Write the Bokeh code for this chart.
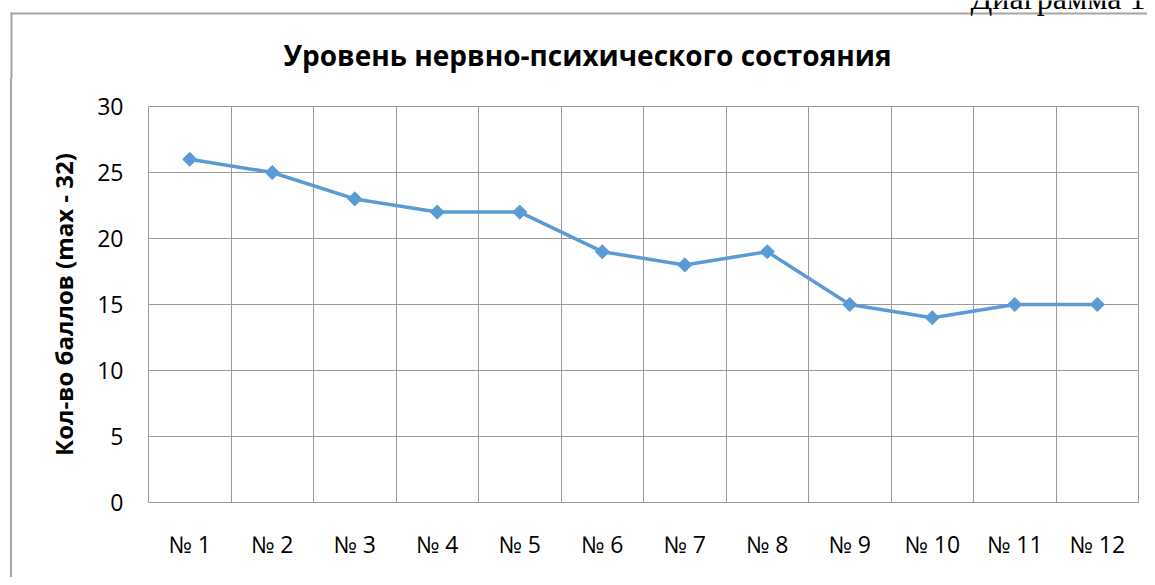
import math
from bokeh.plotting import figure
from bokeh.models import Label, FixedTicker, ColumnDataSource, Range1d, Column
from bokeh.core.properties import value
from bokeh.embed import file_html
from bokeh.resources import INLINE

categories = ["№ 1", "№ 2", "№ 3", "№ 4", "№ 5", "№ 6", "№ 7", "№ 8", "№ 9", "№ 10", "№ 11", "№ 12"]
values = [26, 25, 23, 22, 22, 19, 18, 19, 15, 14, 15, 15]
y_ticks = [0, 5, 10, 15, 20, 25, 30]
title_text = "Уровень нервно-психического состояния"
y_label_text = "Кол-во баллов (max - 32)"
caption_text = "Диаграмма 1"

FONT = "Open Sans"
GRID = "#9a9a9a"
BORDER = "#a6a6a6"
LINE = "#5b9bd5"

TOTAL_W = 1147
TOTAL_H = 577
BOX_X = 10          # chart box left edge (page px)
BOX_Y = 12          # chart box top edge (page px)
BW = 2              # chart box border width
HEAD_H = 78         # header strip: caption, box top border, title
MAIN_X = BOX_X + BW
MAIN_Y = HEAD_H
INNER_W = TOTAL_W - MAIN_X
MAIN_H = TOTAL_H - HEAD_H
TEXT_DY = 12        # measured baseline correction for text in the header strip

# ---- header strip (pixel-scaled ranges, y measured from the strip bottom)
head = figure(width=TOTAL_W, height=HEAD_H, output_backend="svg", toolbar_location=None,
              x_range=Range1d(0, TOTAL_W), y_range=Range1d(0, HEAD_H),
              x_axis_type=None, y_axis_type=None, min_border=0)
head.grid.visible = False
head.outline_line_color = None
head.background_fill_color = "white"
head.border_fill_color = "white"

border_y = HEAD_H - (BOX_Y + BW / 2)
border_x = BOX_X + BW / 2
head.segment(x0=[border_x - BW / 2, border_x], y0=[border_y, border_y + BW / 2],
             x1=[TOTAL_W, border_x], y1=[border_y, 0],
             line_color=BORDER, line_width=BW)

head.add_layout(Label(x=TOTAL_W - 2, y=HEAD_H - 9 + TEXT_DY, text=caption_text,
                      text_font="Liberation Serif", text_font_size="32px",
                      text_align="right", text_baseline="alphabetic", text_color="black"))
tsrc = ColumnDataSource(dict(x=[283], y=[HEAD_H - 66 + TEXT_DY], t=[title_text]))
head.text(x="x", y="y", text="t", source=tsrc,
          text_font=value(FONT), text_font_style="bold", text_font_size="28px",
          text_align="left", text_baseline="alphabetic", text_color="black")

# ---- main chart
FL, FR, FT, FB = 148 - MAIN_X, 1138 - MAIN_X, 106 - MAIN_Y, 502 - MAIN_Y
p = figure(width=INNER_W, height=MAIN_H, output_backend="svg", toolbar_location=None,
           x_range=Range1d(0.5, len(categories) + 0.5), y_range=Range1d(0, 30),
           min_border_left=FL, min_border_right=INNER_W - FR,
           min_border_top=FT, min_border_bottom=MAIN_H - FB)
p.background_fill_color = "white"
p.border_fill_color = "white"
p.outline_line_color = GRID
p.outline_line_width = 1

xs = list(range(1, len(categories) + 1))
src = ColumnDataSource(dict(x=xs, y=values))
p.line("x", "y", source=src, line_color=LINE, line_width=3.5)
p.scatter("x", "y", source=src, marker="square", angle=math.pi / 4, size=10,
          fill_color=LINE, line_color=LINE)

p.xaxis.ticker = FixedTicker(ticks=xs)
p.xaxis.major_label_overrides = {i: c for i, c in zip(xs, categories)}
p.yaxis.ticker = FixedTicker(ticks=y_ticks)
for ax in (p.xaxis[0], p.yaxis[0]):
    ax.axis_line_color = None
    ax.major_tick_line_color = None
    ax.minor_tick_line_color = None
    ax.major_tick_in = 0
    ax.major_tick_out = 0
    ax.major_label_text_font = FONT
    ax.major_label_text_font_size = "23px"
    ax.major_label_text_color = "black"
p.xaxis.major_label_standoff = 25
p.yaxis.major_label_standoff = 25
p.yaxis.axis_label = y_label_text
p.yaxis.axis_label_text_font = FONT
p.yaxis.axis_label_text_font_style = "bold"
p.yaxis.axis_label_text_font_size = "24px"
p.yaxis.axis_label_text_color = "black"
p.yaxis.axis_label_standoff = 14

p.xgrid.ticker = FixedTicker(ticks=[i + 0.5 for i in range(1, len(categories))])
p.ygrid.ticker = FixedTicker(ticks=y_ticks[1:-1])
p.xgrid.grid_line_color = GRID
p.ygrid.grid_line_color = GRID

box = Column(children=[p], spacing=0,
             styles={"margin-left": f"{BOX_X}px",
                     "border-left": f"{BW}px solid {BORDER}"})
root = Column(children=[head, box], spacing=0)

open("out.html", "w").write(file_html(root, INLINE))
